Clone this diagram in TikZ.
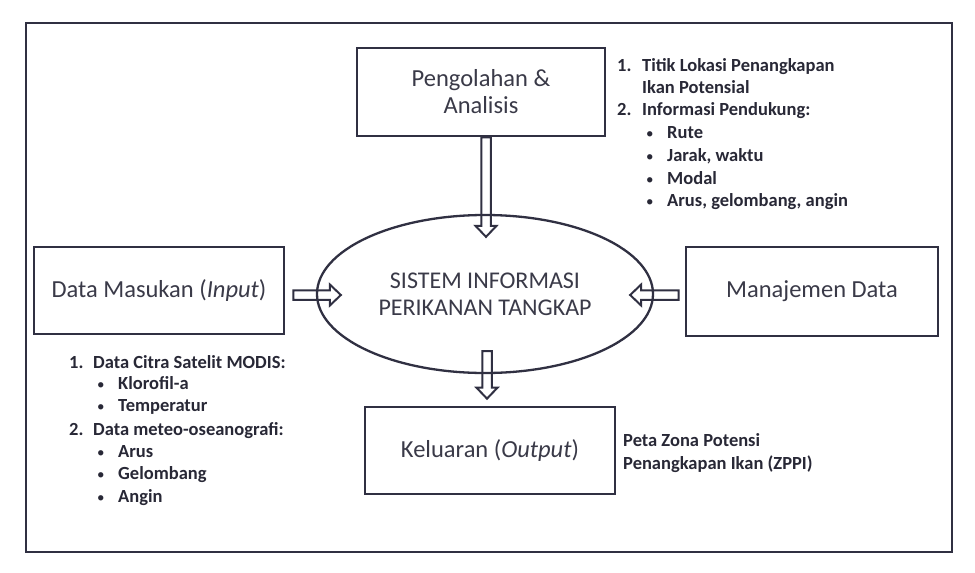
\documentclass[tikz,border=0pt]{standalone}
\usepackage{fontspec}
\setmainfont{Carlito}
\usetikzlibrary{calc,shapes.geometric}
\definecolor{linecol}{RGB}{48,48,66}
\definecolor{txtcol}{RGB}{58,58,72}
\definecolor{listcol}{RGB}{40,40,54}
\tikzset{
  boxnode/.style={draw=linecol, line width=2.7pt, rectangle, inner sep=0pt, align=center,
    text=txtcol, font=\fontsize{24.5}{27}\selectfont},
  ellnode/.style={draw=linecol, line width=2.3pt, ellipse, inner sep=0pt, align=center,
    text=txtcol, font=\fontsize{24}{27}\selectfont},
  listnode/.style={anchor=base west, inner sep=0pt, text=listcol, font=\fontsize{18.5}{21}\selectfont\bfseries},
  bulnode/.style={anchor=base west, inner sep=0pt, text=listcol, font=\fontsize{15}{18}\selectfont},
  barrow/.style={draw=linecol, line width=2pt, line join=miter},
  frame/.style={draw=linecol, line width=2.8pt}
}
\newcommand\ArrDown[2]{%
  \draw[barrow] let \p1=(#1), \p2=(#2) in
    (\x1-4.75pt,\y1) -- (\x1-4.75pt,\y2+11pt) -- (\x1-10.5pt,\y2+11pt) -- (\x1,\y2)
    -- (\x1+10.5pt,\y2+11pt) -- (\x1+4.75pt,\y2+11pt) -- (\x1+4.75pt,\y1) -- cycle;}
\newcommand\ArrRight[2]{%
  \draw[barrow] let \p1=(#1), \p2=(#2) in
    (\x1,\y1+4.75pt) -- (\x2-11pt,\y1+4.75pt) -- (\x2-11pt,\y1+10.5pt) -- (\x2,\y1)
    -- (\x2-11pt,\y1-10.5pt) -- (\x2-11pt,\y1-4.75pt) -- (\x1,\y1-4.75pt) -- cycle;}
\newcommand\ArrLeft[2]{%
  \draw[barrow] let \p1=(#1), \p2=(#2) in
    (\x1,\y1+4.75pt) -- (\x2+11pt,\y1+4.75pt) -- (\x2+11pt,\y1+10.5pt) -- (\x2,\y1)
    -- (\x2+11pt,\y1-10.5pt) -- (\x2+11pt,\y1-4.75pt) -- (\x1,\y1-4.75pt) -- cycle;}
\begin{document}
\begin{tikzpicture}[x=1pt,y=-1pt]
\useasboundingbox (0,0) rectangle (975,573);
\fill[white] (0,0) rectangle (975,573);
\draw[frame] (26,23) rectangle (952,552);

% nodes
\node[boxnode, minimum width=248pt, minimum height=88pt] (peng) at (481,92) {Pengolahan \&\\Analisis};
\node[ellnode, minimum width=336pt, minimum height=158pt] (ell) at (485,294) {SISTEM INFORMASI\\PERIKANAN TANGKAP};
\node[boxnode, minimum width=250pt, minimum height=87pt] (datain) at (159,290.5) {Data Masukan (\textit{Input})};
\node[boxnode, minimum width=252pt, minimum height=89pt] (manaj) at (812,291.5) {Manajemen Data};
\node[boxnode, minimum width=250pt, minimum height=87pt] (kel) at (490,450.5) {Keluaran (\textit{Output})};

% connectors
\coordinate (a1s) at ($(peng.south)+(5,0)$);
\coordinate (a1e) at ($(ell.north)+(1,23)$);
\ArrDown{a1s}{a1e}
\coordinate (a2s) at ($(datain.east)+(8,4.5)$);
\coordinate (a2e) at ($(ell.west)+(25,0)$);
\ArrRight{a2s}{a2e}
\coordinate (a3s) at ($(manaj.west)+(-6,3.5)$);
\coordinate (a3e) at ($(ell.east)+(-24,0)$);
\ArrLeft{a3s}{a3e}
\coordinate (a4s) at ($(ell.south)+(2,-23)$);
\coordinate (a4e) at ($(kel.north)+(0,-7)$);
\ArrDown{a4s}{a4e}

% right top list
\node[listnode] (t1n) at (617,71) {1.};
\node[listnode] (t1) at (642,71) {Titik Lokasi Penangkapan};
\node[listnode] (t1b) at (642,93.5) {Ikan Potensial};
\node[listnode] (t2n) at (617,115) {2.};
\node[listnode] (t2) at (642,115) {Informasi Pendukung:};
\node[bulnode] (b1d) at (646,138) {•};
\node[listnode] (b1) at (667,138) {Rute};
\node[bulnode] (b2d) at (646,161) {•};
\node[listnode] (b2) at (667,161) {Jarak, waktu};
\node[bulnode] (b3d) at (646,184) {•};
\node[listnode] (b3) at (667,184) {Modal};
\node[bulnode] (b4d) at (646,206) {•};
\node[listnode] (b4) at (667,206) {Arus, gelombang, angin};

% left list
\node[listnode] (l1n) at (69,368) {1.};
\node[listnode] (l1) at (93,368) {Data Citra Satelit MODIS:};
\node[bulnode] (c1d) at (97,389.5) {•};
\node[listnode] (c1) at (118,389.5) {Klorofil-a};
\node[bulnode] (c2d) at (97,411.5) {•};
\node[listnode] (c2) at (118,411.5) {Temperatur};
\node[listnode] (l2n) at (69,435) {2.};
\node[listnode] (l2) at (93,435) {Data meteo-oseanografi:};
\node[bulnode] (c3d) at (97,457) {•};
\node[listnode] (c3) at (118,457) {Arus};
\node[bulnode] (c4d) at (97,479.5) {•};
\node[listnode] (c4) at (118,479.5) {Gelombang};
\node[bulnode] (c5d) at (97,502) {•};
\node[listnode] (c5) at (118,502) {Angin};

% output note
\node[listnode] (z1) at (623,446) {Peta Zona Potensi};
\node[listnode] (z2) at (623,469) {Penangkapan Ikan (ZPPI)};
\end{tikzpicture}
\end{document}
